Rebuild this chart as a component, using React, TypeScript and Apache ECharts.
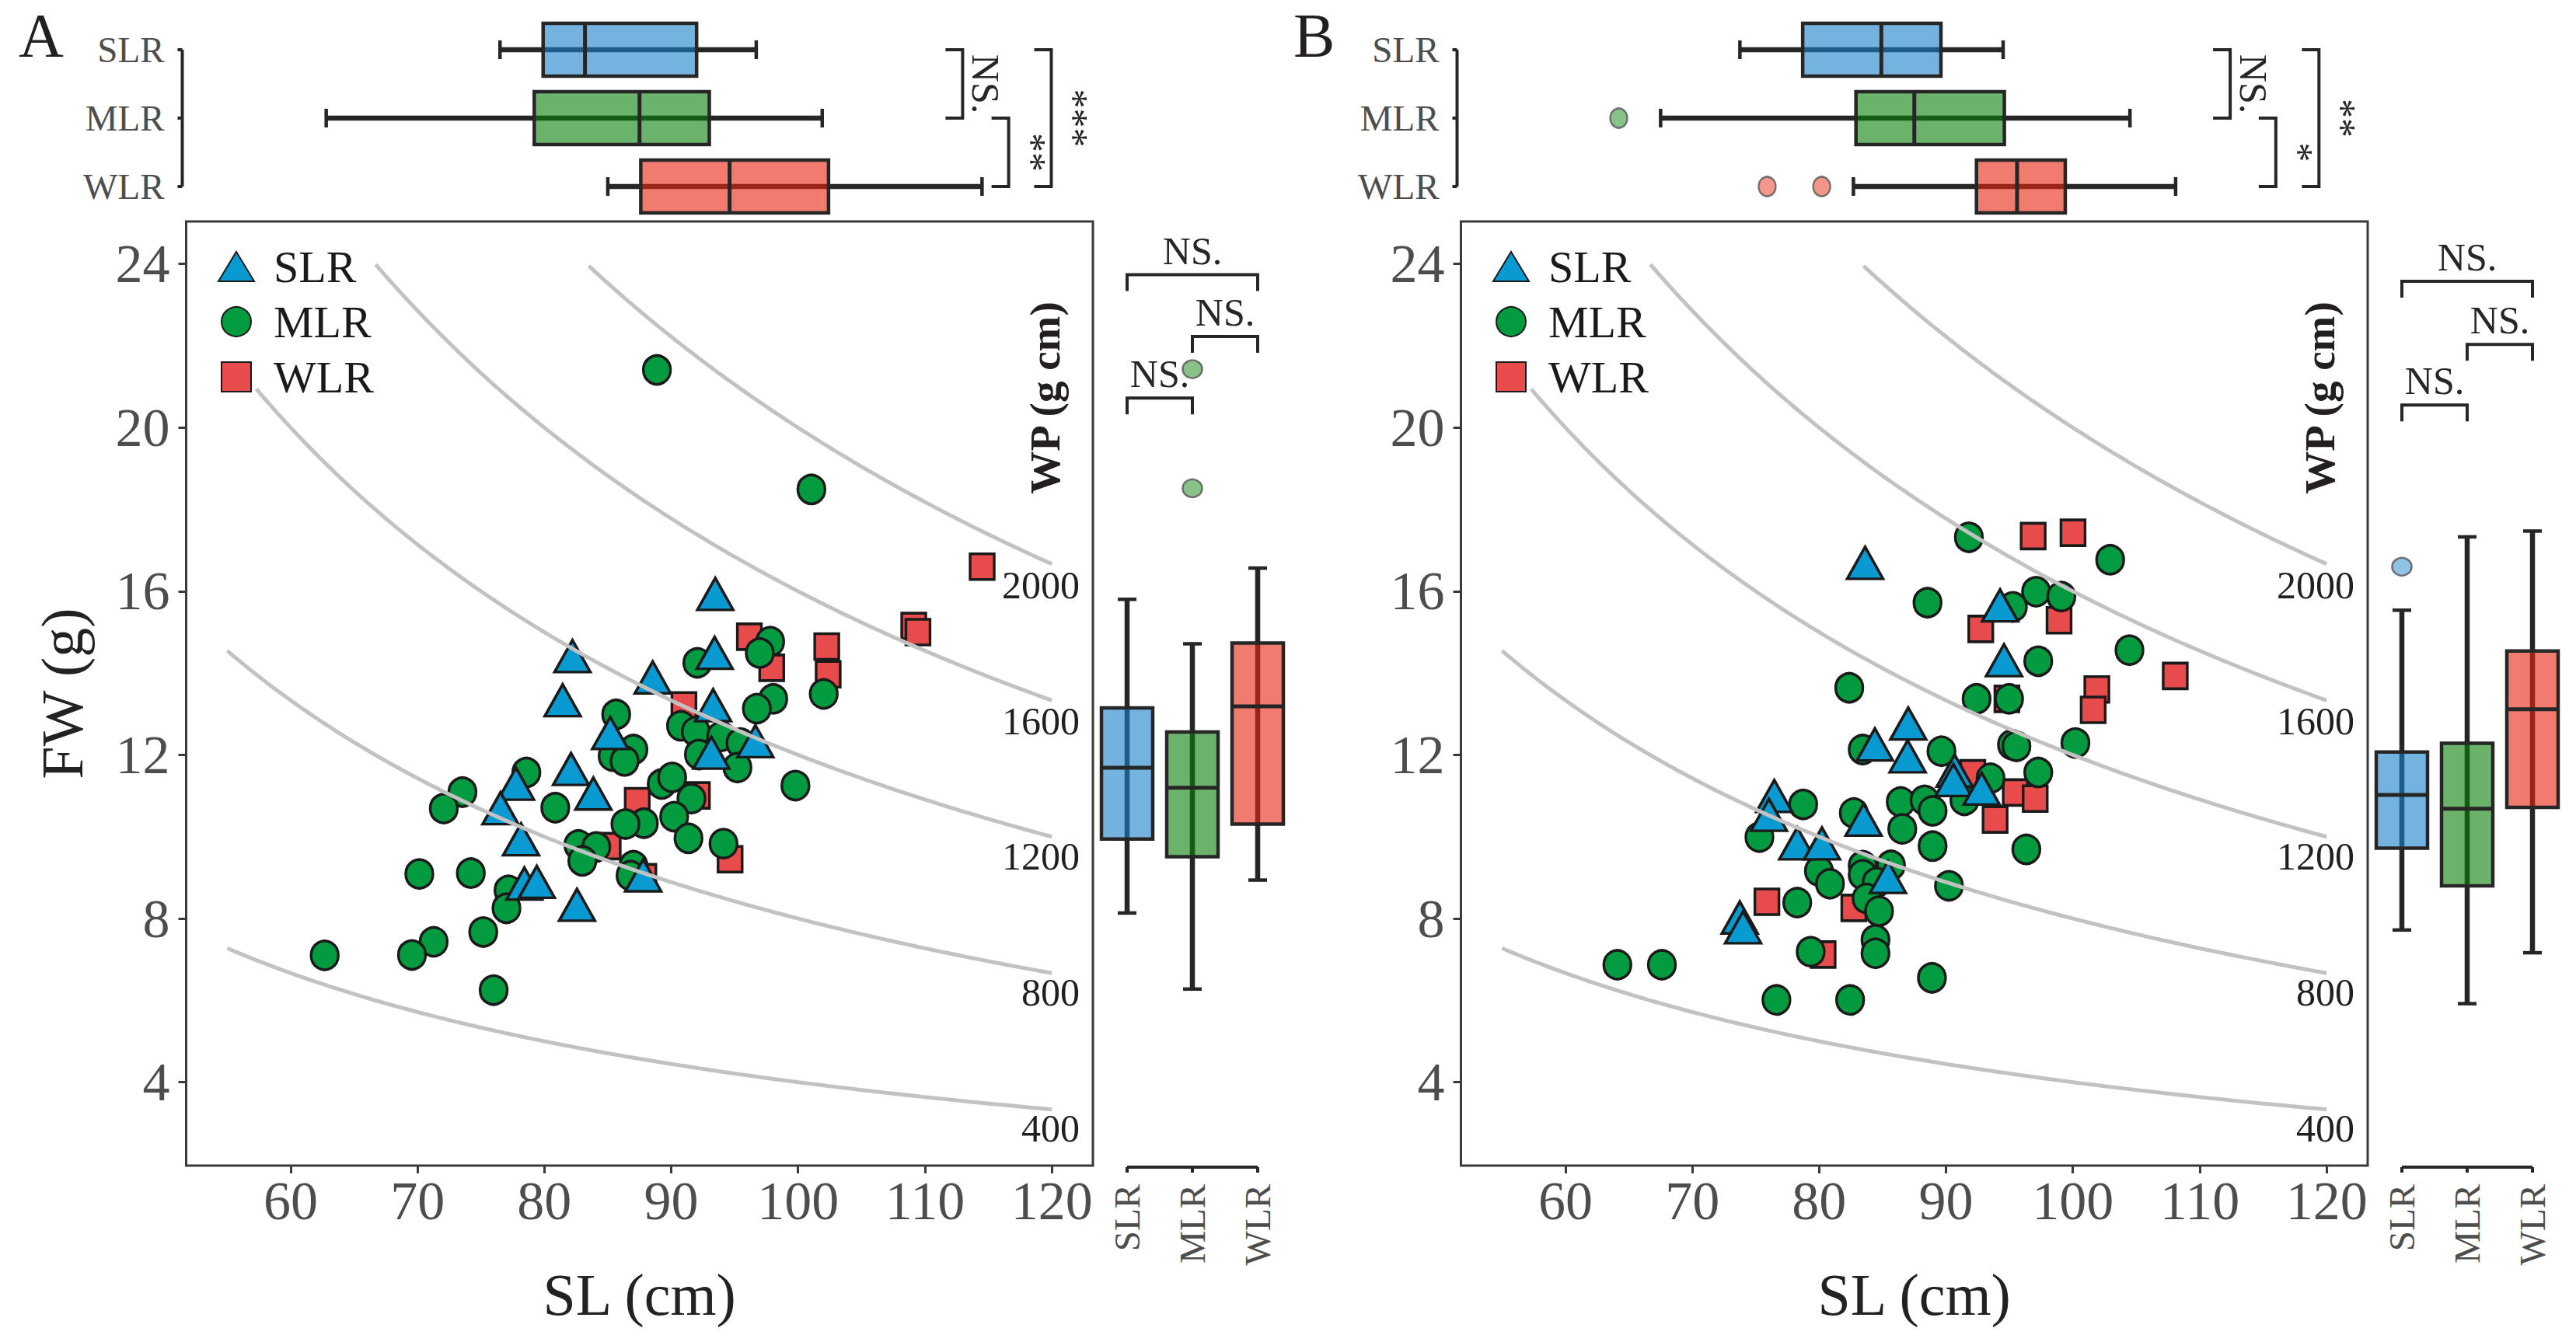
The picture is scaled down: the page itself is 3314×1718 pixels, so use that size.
import React, { useEffect, useRef } from "react";
import * as echarts from "echarts";

// ---------------- data ----------------
const GROUPS = ["SLR", "MLR", "WLR"];
const SL_TICKS = [60, 70, 80, 90, 100, 110, 120];
const FW_TICKS = [4, 8, 12, 16, 20, 24];
const WP_TICKS = [400, 800, 1200, 1600, 2000];

// isolines WP = FW x SL (g cm), start SL, end at 120
const ISO_WP = [400, 800, 1200, 1600, 2000];
const ISO_SL_START = [55, 55, 57.3, 66.7, 83.5];
const ISO_SL_END = 120;

// Panel A scatter [SL, FW]
const A_SLR = [
  [93.47, 15.81], [93.42, 14.37], [82.21, 14.29], [81.44, 13.21], [88.54, 13.77], [93.3, 13.09],
  [85.19, 12.41], [96.63, 12.21], [93.16, 11.93], [82.1, 11.53], [77.76, 11.17], [83.86, 10.93],
  [76.54, 10.57], [78.16, 9.81], [78.42, 8.73], [79.4, 8.77], [82.57, 8.21], [87.79, 8.93],
];
const A_MLR = [
  [88.87, 21.41], [101.05, 18.49], [92.06, 14.25], [97.8, 14.77], [96.98, 14.49], [102.02, 13.49],
  [98.04, 13.37], [96.75, 13.13], [85.66, 12.99], [90.77, 12.71], [91.94, 12.57], [93.93, 12.45],
  [95.46, 12.29], [92.18, 12.01], [87.02, 12.13], [85.38, 11.97], [86.32, 11.85], [95.22, 11.69],
  [78.58, 11.57], [99.79, 11.25], [73.54, 11.09], [72.07, 10.69], [80.86, 10.71], [89.25, 11.29],
  [90.07, 11.45], [91.59, 10.93], [90.23, 10.49], [87.84, 10.33], [86.39, 10.31], [91.36, 9.96],
  [94.12, 9.83], [82.68, 9.8], [84.09, 9.75], [82.99, 9.41], [87.02, 9.29], [86.79, 9.05],
  [70.14, 9.09], [74.2, 9.11], [77.17, 8.69], [77.01, 8.25], [75.18, 7.67], [71.27, 7.43],
  [69.56, 7.11], [76.0, 6.25], [62.68, 7.1],
];
const A_WLR = [
  [96.16, 14.89], [102.26, 14.65], [97.92, 14.13], [102.37, 13.97], [91.0, 13.21], [92.06, 11.01],
  [87.32, 10.87], [85.03, 9.77], [94.64, 9.45], [87.84, 9.01], [114.51, 16.6], [109.12, 15.15],
  [109.45, 15.0],
];

// Panel B scatter [SL, FW]
const B_SLR = [
  [83.62, 16.57], [94.26, 15.53], [94.57, 14.19], [87.02, 12.64], [84.39, 12.13], [86.97, 11.84],
  [90.68, 11.49], [90.58, 11.26], [92.81, 11.05], [76.46, 10.87], [76.04, 10.41], [83.5, 10.29],
  [78.27, 9.71], [80.22, 9.71], [85.42, 8.89], [73.74, 7.9], [74.0, 7.66],
];
const B_MLR = [
  [91.8, 17.32], [102.94, 16.77], [88.54, 15.72], [97.1, 15.99], [99.09, 15.87], [95.27, 15.62],
  [104.46, 14.56], [97.27, 14.29], [82.37, 13.64], [92.41, 13.37], [94.97, 13.37], [100.2, 12.29],
  [95.2, 12.25], [95.55, 12.21], [89.64, 12.09], [83.43, 12.13], [97.27, 11.57], [93.51, 11.43],
  [78.74, 10.79], [82.73, 10.58], [86.43, 10.85], [88.31, 10.89], [88.94, 10.63], [91.45, 10.89],
  [75.29, 9.99], [86.55, 10.19], [88.94, 9.77], [96.33, 9.69], [79.98, 9.16], [80.85, 8.85],
  [83.43, 9.29], [83.43, 9.07], [85.66, 9.3], [84.53, 8.88], [83.74, 8.49], [84.72, 8.18],
  [90.23, 8.8], [78.27, 8.39], [84.44, 7.48], [84.44, 7.15], [79.33, 7.19], [88.89, 6.55],
  [76.63, 6.01], [82.44, 6.01], [64.09, 6.87], [67.6, 6.87],
];
const B_WLR = [
  [96.87, 17.35], [100.01, 17.43], [92.74, 15.08], [98.91, 15.29], [101.89, 13.6], [101.6, 13.1],
  [94.8, 13.37], [92.11, 11.55], [95.46, 11.08], [97.03, 10.93], [93.87, 10.42], [75.88, 8.41],
  [82.73, 8.26], [80.31, 7.12], [108.07, 13.93],
];

// top boxplots of SL: [min, q1, median, q3, max] per group
const A_TOP_BOX = [
  [76.5, 79.9, 83.2, 92.0, 96.7],
  [62.8, 79.2, 87.5, 93.0, 101.9],
  [85.0, 87.6, 94.6, 102.4, 114.5],
];
const A_TOP_OUT = [[], [], []];
const B_TOP_BOX = [
  [73.75, 78.7, 84.9, 89.6, 94.5],
  [67.5, 82.9, 87.5, 94.6, 104.5],
  [82.7, 92.4, 95.6, 99.4, 108.1],
];
const B_TOP_OUT = [[], [64.2], [75.9, 80.2]];

// right boxplots of WP (g cm)
const A_WP_BOX = [
  [1034, 1252, 1462, 1638, 1958],
  [810, 1200, 1403, 1567, 1827],
  [1131, 1296, 1643, 1829, 2050],
];
const A_WP_OUT = [[], [2285, 2636], []];
const B_WP_BOX = [
  [984, 1225, 1382, 1508, 1926],
  [767, 1114, 1341, 1534, 2142],
  [917, 1345, 1634, 1806, 2159],
];
const B_WP_OUT = [[2054], [], []];

// significance brackets
const A_TOP_SIG = [[112.97, 0, 1], [116.6, 1, 2], [119.96, 0, 2]];
const A_TOP_SIG_LABELS = ["NS.", "**", "***"];
const B_TOP_SIG = [[112.4, 0, 1], [116.0, 1, 2], [119.4, 0, 2]];
const B_TOP_SIG_LABELS = ["NS.", "*", "**"];
const A_WP_SIG = [[0, 2, 2914], [1, 2, 2732], [0, 1, 2551]];
const B_WP_SIG = [[0, 2, 2895], [1, 2, 2709], [0, 1, 2530]];
const WP_SIG_LABELS = ["NS.", "NS.", "NS."];

const PANEL_LETTERS = ["A", "B"];

// ---------------- styling / layout ----------------
const FONT = "'Liberation Serif', 'Times New Roman', Times, serif";
const INK = "#262626";
const GREY_TXT = "#4d4d4d";
const PT_COLORS = ["#0a9ad2", "#029b40", "#e84b4b"];
const BOX_FILLS = ["rgba(23,128,202,0.6)", "rgba(8,128,8,0.6)", "rgba(230,35,13,0.6)"];
const SYMBOLS = ["triangle", "circle", "rect"];
const SYMBOL_SIZES: any[] = [[46, 41], [35, 37], [31, 33]];

const PANEL_DX = 1640;
const SC = { left: 239.5, top: 285, width: 1166.5, height: 1215 };
const TOPG = { left: 239.5, top: 20, width: 1166.5, height: 264 };
const WPG = { left: 1408, top: 285, width: 252, height: 1215 };
const SL_MIN = 51.76, SL_MAX = 123.24;
const FW_MIN = 1.96, FW_MAX = 25.04;
const WP_MIN = 290, WP_MAX = 3071;

function isoLine(wp: number, start: number) {
  const n = 140;
  const pts: number[][] = [];
  for (let i = 0; i <= n; i++) {
    const sl = start + ((ISO_SL_END - start) * i) / n;
    pts.push([sl, wp / sl]);
  }
  return pts;
}

function boxItem(horizontal: boolean, thick: number) {
  return (params: any, api: any) => {
    const c = api.value(0);
    const P = (val: number) => (horizontal ? api.coord([val, c]) : api.coord([c, val]));
    const p = [1, 2, 3, 4, 5].map((i) => P(api.value(i)));
    const h = thick / 2;
    const cap = 12;
    const ls = (w: number) => ({ stroke: INK, lineWidth: w });
    const fill = BOX_FILLS[params.dataIndex];
    const ch: any[] = [];
    if (horizontal) {
      const cy = p[0][1];
      ch.push({ type: "line", shape: { x1: p[0][0], y1: cy, x2: p[4][0], y2: cy }, style: ls(6.5) });
      ch.push({ type: "line", shape: { x1: p[0][0], y1: cy - cap, x2: p[0][0], y2: cy + cap }, style: ls(4.5) });
      ch.push({ type: "line", shape: { x1: p[4][0], y1: cy - cap, x2: p[4][0], y2: cy + cap }, style: ls(4.5) });
      ch.push({ type: "rect", shape: { x: p[1][0], y: cy - h, width: p[3][0] - p[1][0], height: thick }, style: { fill, stroke: INK, lineWidth: 4.5 } });
      ch.push({ type: "line", shape: { x1: p[2][0], y1: cy - h, x2: p[2][0], y2: cy + h }, style: ls(5) });
    } else {
      const cx = p[0][0];
      ch.push({ type: "line", shape: { x1: cx, y1: p[0][1], x2: cx, y2: p[4][1] }, style: ls(6.5) });
      ch.push({ type: "line", shape: { x1: cx - cap, y1: p[0][1], x2: cx + cap, y2: p[0][1] }, style: ls(4.5) });
      ch.push({ type: "line", shape: { x1: cx - cap, y1: p[4][1], x2: cx + cap, y2: p[4][1] }, style: ls(4.5) });
      ch.push({ type: "rect", shape: { x: cx - h, y: p[3][1], width: thick, height: p[1][1] - p[3][1] }, style: { fill, stroke: INK, lineWidth: 4.5 } });
      ch.push({ type: "line", shape: { x1: cx - h, y1: p[2][1], x2: cx + h, y2: p[2][1] }, style: ls(5) });
    }
    return { type: "group", children: ch };
  };
}

function vBracketItem(labels: string[]) {
  return (params: any, api: any) => {
    const a = api.coord([api.value(0), api.value(1)]);
    const b = api.coord([api.value(0), api.value(2)]);
    const t = 22;
    return {
      type: "group",
      children: [
        { type: "polyline", shape: { points: [[a[0] - t, a[1]], [a[0], a[1]], [b[0], b[1]], [b[0] - t, b[1]]] }, style: { stroke: INK, lineWidth: 4, fill: "none" } },
        { type: "text", x: a[0] + 30, y: (a[1] + b[1]) / 2, rotation: -Math.PI / 2, style: { text: labels[params.dataIndex], fontSize: 50, fontFamily: FONT, fill: INK, align: "center", verticalAlign: "middle" } },
      ],
    };
  };
}

function hBracketItem(labels: string[]) {
  return (params: any, api: any) => {
    const a = api.coord([api.value(0), api.value(2)]);
    const b = api.coord([api.value(1), api.value(2)]);
    const t = 21;
    return {
      type: "group",
      children: [
        { type: "polyline", shape: { points: [[a[0], a[1] + t], [a[0], a[1]], [b[0], b[1]], [b[0], b[1] + t]] }, style: { stroke: INK, lineWidth: 4, fill: "none" } },
        { type: "text", x: (a[0] + b[0]) / 2, y: a[1] - 31, style: { text: labels[params.dataIndex], fontSize: 50, fontFamily: FONT, fill: INK, align: "center", verticalAlign: "middle" } },
      ],
    };
  };
}

// bracket-style axis line on the category axis of the top boxplot
function catAxisLeftItem(params: any, api: any) {
  const pts = [0, 1, 2].map((c) => api.coord([api.value(0), c]));
  const x = pts[0][0] - 5;
  const ch: any[] = [{ type: "line", shape: { x1: x, y1: pts[0][1], x2: x, y2: pts[2][1] }, style: { stroke: INK, lineWidth: 4 } }];
  pts.forEach((p: number[]) => ch.push({ type: "line", shape: { x1: x - 6, y1: p[1], x2: x, y2: p[1] }, style: { stroke: INK, lineWidth: 4 } }));
  return { type: "group", children: ch };
}

// bracket-style axis line under the WP boxplot
function catAxisBottomItem(params: any, api: any) {
  const pts = [0, 1, 2].map((c) => api.coord([c, api.value(1)]));
  const y = pts[0][1] + 2;
  const ch: any[] = [{ type: "line", shape: { x1: pts[0][0], y1: y, x2: pts[2][0], y2: y }, style: { stroke: INK, lineWidth: 4 } }];
  pts.forEach((p: number[]) => ch.push({ type: "line", shape: { x1: p[0], y1: y, x2: p[0], y2: y + 7 }, style: { stroke: INK, lineWidth: 4 } }));
  return { type: "group", children: ch };
}

function buildOption() {
  const grids: any[] = [];
  const xAxes: any[] = [];
  const yAxes: any[] = [];
  const series: any[] = [];
  const legends: any[] = [];
  const graphics: any[] = [];

  const panels = [
    { sc: [A_SLR, A_MLR, A_WLR], topBox: A_TOP_BOX, topOut: A_TOP_OUT, wpBox: A_WP_BOX, wpOut: A_WP_OUT, topSig: A_TOP_SIG, topSigLab: A_TOP_SIG_LABELS, wpSig: A_WP_SIG },
    { sc: [B_SLR, B_MLR, B_WLR], topBox: B_TOP_BOX, topOut: B_TOP_OUT, wpBox: B_WP_BOX, wpOut: B_WP_OUT, topSig: B_TOP_SIG, topSigLab: B_TOP_SIG_LABELS, wpSig: B_WP_SIG },
  ];

  panels.forEach((P, pi) => {
    const dx = pi * PANEL_DX;
    const gS = pi * 3, gT = pi * 3 + 1, gW = pi * 3 + 2;

    grids.push({ left: SC.left + dx, top: SC.top, width: SC.width, height: SC.height, show: true, borderColor: "#3a3a3a", borderWidth: 3, backgroundColor: "transparent" });
    grids.push({ left: TOPG.left + dx, top: TOPG.top, width: TOPG.width, height: TOPG.height });
    grids.push({ left: WPG.left + dx, top: WPG.top, width: WPG.width, height: WPG.height });

    // scatter axes
    xAxes.push({
      type: "value", gridIndex: gS, min: SL_MIN, max: SL_MAX,
      axisLine: { show: false }, splitLine: { show: false },
      axisTick: { show: true, length: 10, lineStyle: { color: "#3a3a3a", width: 3 }, customValues: SL_TICKS },
      axisLabel: { customValues: SL_TICKS, fontSize: 70, color: GREY_TXT, fontFamily: FONT, margin: 10 },
      name: "SL (cm)", nameLocation: "middle", nameGap: 128,
      nameTextStyle: { fontSize: 76, color: "#222", fontFamily: FONT },
    });
    yAxes.push({
      type: "value", gridIndex: gS, min: FW_MIN, max: FW_MAX,
      axisLine: { show: false }, splitLine: { show: false },
      axisTick: { show: true, length: 10, lineStyle: { color: "#3a3a3a", width: 3 }, customValues: FW_TICKS },
      axisLabel: { customValues: FW_TICKS, fontSize: 70, color: GREY_TXT, fontFamily: FONT, margin: 21 },
      name: pi === 0 ? "FW (g)" : "", nameLocation: "middle", nameGap: 122, nameRotate: 90,
      nameTextStyle: { fontSize: 76, color: "#222", fontFamily: FONT },
    });
    // top boxplot axes
    xAxes.push({ type: "value", gridIndex: gT, min: SL_MIN, max: SL_MAX, show: false });
    yAxes.push({
      type: "category", gridIndex: gT, data: GROUPS, inverse: true,
      axisLine: { show: false }, axisTick: { show: false }, splitLine: { show: false },
      axisLabel: { fontSize: 47, color: GREY_TXT, fontFamily: FONT, margin: 28 },
    });
    // WP boxplot axes
    xAxes.push({
      type: "category", gridIndex: gW, data: GROUPS,
      axisLine: { show: false }, axisTick: { show: false }, splitLine: { show: false },
      axisLabel: { rotate: 90, fontSize: 47, color: GREY_TXT, fontFamily: FONT, margin: 24 },
    });
    yAxes.push({
      type: "value", gridIndex: gW, min: WP_MIN, max: WP_MAX,
      axisLine: { show: false }, axisTick: { show: false }, splitLine: { show: false },
      axisLabel: {
        customValues: WP_TICKS, fontSize: 50, color: "#231f20", fontFamily: FONT, margin: 19,
        formatter: (v: number) => String(v),
      },
    });

    // isolines (drawn above the points)
    ISO_WP.forEach((wp, k) => {
      series.push({
        type: "line", xAxisIndex: gS, yAxisIndex: gS, data: isoLine(wp, ISO_SL_START[k]),
        symbol: "none", silent: true, z: 4, lineStyle: { color: "#c2c2c2", width: 5 },
      });
    });

    // scatter points, WLR first so that SLR sits on top
    [2, 1, 0].forEach((g) => {
      series.push({
        type: "scatter", name: GROUPS[g], xAxisIndex: gS, yAxisIndex: gS, data: P.sc[g],
        symbol: SYMBOLS[g], symbolSize: SYMBOL_SIZES[g], symbolOffset: g === 0 ? [0, "-16%"] : [0, 0],
        itemStyle: { color: PT_COLORS[g], borderColor: "#1a1a1a", borderWidth: 3.5, opacity: 1 },
        z: 2, silent: true,
      });
    });

    // top boxplot (horizontal)
    series.push({
      type: "custom", xAxisIndex: gT, yAxisIndex: gT, silent: true, z: 2,
      data: P.topBox.map((b, i) => [i, ...b]),
      encode: { x: [1, 2, 3, 4, 5], y: 0 },
      renderItem: boxItem(true, 68),
    });
    const topOutData: any[] = [];
    P.topOut.forEach((vals: number[], g: number) => vals.forEach((v) => topOutData.push({ value: [v, g], itemStyle: { color: BOX_FILLS[g] } })));
    series.push({
      type: "scatter", xAxisIndex: gT, yAxisIndex: gT, data: topOutData, symbol: "circle", symbolSize: [22, 25],
      itemStyle: { borderColor: "#555", borderWidth: 2.5 }, silent: true, z: 3,
    });
    series.push({
      type: "custom", xAxisIndex: gT, yAxisIndex: gT, silent: true, z: 3,
      data: P.topSig, encode: { x: 0, y: [1, 2] }, renderItem: vBracketItem(P.topSigLab),
    });
    series.push({
      type: "custom", xAxisIndex: gT, yAxisIndex: gT, silent: true, z: 3,
      data: [[SL_MIN, 0, 2]], encode: { x: 0, y: [1, 2] }, renderItem: catAxisLeftItem,
    });

    // WP boxplot (vertical)
    series.push({
      type: "custom", xAxisIndex: gW, yAxisIndex: gW, silent: true, z: 2,
      data: P.wpBox.map((b, i) => [i, ...b]),
      encode: { x: 0, y: [1, 2, 3, 4, 5] },
      renderItem: boxItem(false, 66),
    });
    const wpOutData: any[] = [];
    P.wpOut.forEach((vals: number[], g: number) => vals.forEach((v) => wpOutData.push({ value: [g, v], itemStyle: { color: BOX_FILLS[g] } })));
    series.push({
      type: "scatter", xAxisIndex: gW, yAxisIndex: gW, data: wpOutData, symbol: "circle", symbolSize: [25, 23],
      itemStyle: { borderColor: "#555", borderWidth: 2.5 }, silent: true, z: 3,
    });
    series.push({
      type: "custom", xAxisIndex: gW, yAxisIndex: gW, silent: true, z: 3,
      data: P.wpSig, encode: { x: [0, 1], y: 2 }, renderItem: hBracketItem(WP_SIG_LABELS),
    });
    series.push({
      type: "custom", xAxisIndex: gW, yAxisIndex: gW, silent: true, z: 3,
      data: [[0, WP_MIN]], encode: { x: 0, y: 1 }, renderItem: catAxisBottomItem,
    });

    legends.push({
      orient: "vertical", left: 275 + dx, top: 309, itemWidth: 46, itemHeight: 38, itemGap: 13,
      selectedMode: false, symbolKeepAspect: true,
      data: [
        { name: "SLR", icon: "triangle" },
        { name: "MLR", icon: "circle" },
        { name: "WLR", icon: "path://M0,0H10V10H0Z" },
      ],
      textStyle: { fontSize: 58, color: "#1a1a1a", fontFamily: FONT, padding: [0, 0, 0, 20] },
    });

    graphics.push({
      type: "text", left: 24 + dx, top: 6,
      style: { text: PANEL_LETTERS[pi], fontSize: 80, fontFamily: FONT, fill: "#231f20" },
    });
    graphics.push({
      type: "text", x: 1344 + dx, y: 512, rotation: Math.PI / 2,
      style: { text: "WP (g cm)", fontSize: 55, fontWeight: "bold", fontFamily: FONT, fill: "#231f20", align: "center", verticalAlign: "middle" },
    });
  });

  return {
    animation: false,
    backgroundColor: "#ffffff",
    textStyle: { fontFamily: FONT },
    grid: grids,
    xAxis: xAxes,
    yAxis: yAxes,
    legend: legends,
    series,
    graphic: graphics,
  };
}

export default function App() {
  const ref = useRef<HTMLDivElement>(null);
  useEffect(() => {
    document.body.style.margin = "0";
    document.body.style.overflow = "hidden";
    if (!ref.current) return;
    const chart = echarts.init(ref.current, undefined, { renderer: "svg" });
    chart.setOption(buildOption() as any);
    return () => chart.dispose();
  }, []);
  return <div ref={ref} style={{ width: 3314, height: 1718 }} />;
}
